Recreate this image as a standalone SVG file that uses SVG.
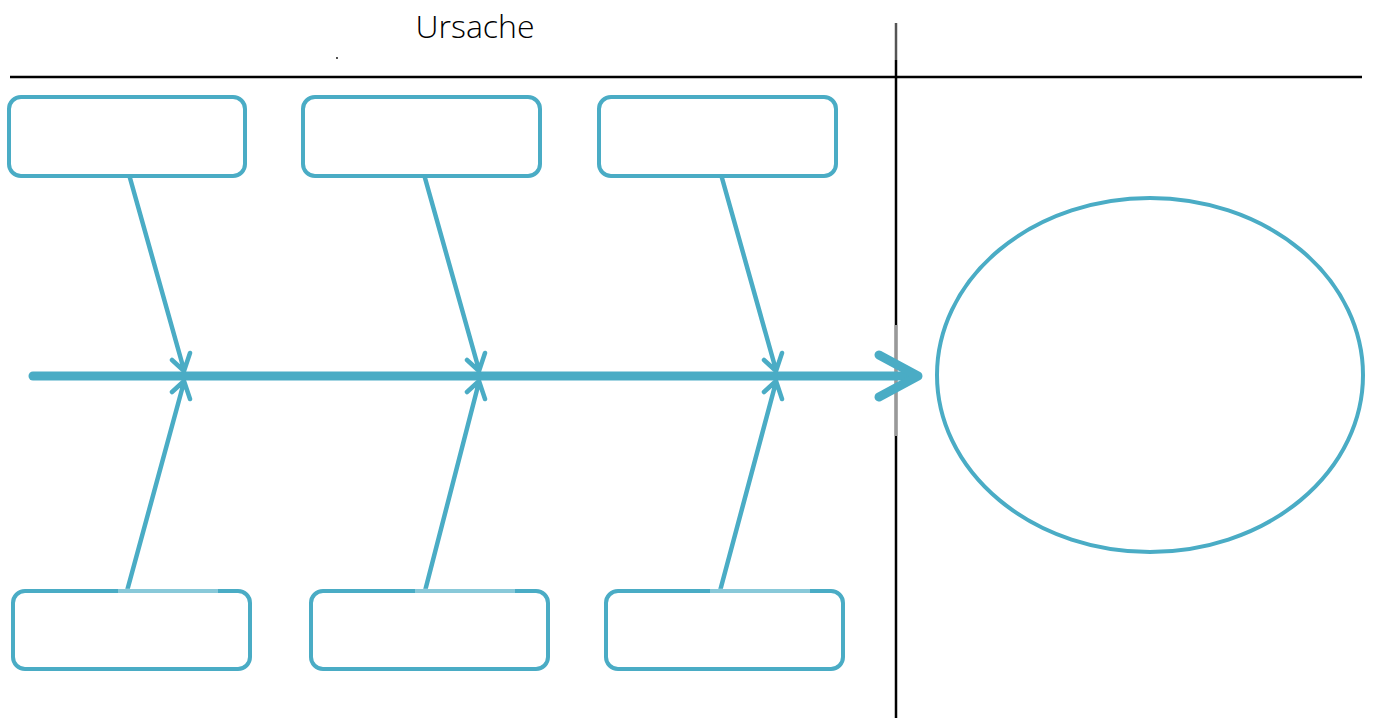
<svg xmlns="http://www.w3.org/2000/svg" width="1377" height="718" viewBox="0 0 1377 718">
<style>
.box{fill:#fff;stroke:#4aacc5;stroke-width:4}
.bone{stroke:#4aacc5;stroke-width:4.5;fill:none;stroke-linecap:round;stroke-linejoin:round}
.spine{stroke:#4aacc5;stroke-width:9;fill:none;stroke-linecap:round;stroke-linejoin:round}
.rule{stroke:#000;stroke-width:2.5;fill:none}
.title{font-family:"Open Sans","Liberation Sans",sans-serif;font-weight:300;font-size:32px;fill:#000}
</style>
<rect width="1377" height="718" fill="#fff"/>
<g id="frame">
<line class="rule" x1="10" y1="77" x2="1362" y2="77"/>
<line class="rule" x1="896" y1="60" x2="896" y2="718"/>
<line x1="896" y1="23" x2="896" y2="60" stroke="#555" stroke-width="2.5"/>
<line x1="896" y1="325" x2="896" y2="436" stroke="#999" stroke-width="3"/>
<circle cx="337" cy="58" r="0.9" fill="#000"/>
</g>
<g id="title"><text class="title" x="475" y="38" text-anchor="middle">Ursache</text></g>
<g id="connectors">
<path class="spine" d="M33 376 H916"/>
<path class="spine" d="M879 355 L918 376 L879 397" stroke-width="10"/>
<path class="bone" d="M130 178 L184 370 M172 360 L184 371 L190 353"/>
<path class="bone" d="M127 591 L184 382 M172 392 L184 381 L190 399"/>
<path class="bone" d="M425 178 L479 370 M467 360 L479 371 L485 353"/>
<path class="bone" d="M425 591 L479 382 M467 392 L479 381 L485 399"/>
<path class="bone" d="M722 178 L776 370 M764 360 L776 371 L782 353"/>
<path class="bone" d="M720 591 L776 382 M764 392 L776 381 L782 399"/>
</g>
<g id="box-top-1"><rect class="box" x="9" y="97" width="236" height="79" rx="12"/></g>
<g id="box-top-2"><rect class="box" x="303" y="97" width="237" height="79" rx="12"/></g>
<g id="box-top-3"><rect class="box" x="599" y="97" width="237" height="79" rx="12"/></g>
<g id="box-bottom-1"><rect class="box" x="13" y="591" width="237" height="78" rx="12"/><line x1="118" y1="591" x2="218" y2="591" stroke="#fff" stroke-opacity="0.35" stroke-width="5"/></g>
<g id="box-bottom-2"><rect class="box" x="311" y="591" width="237" height="78" rx="12"/><line x1="415" y1="591" x2="515" y2="591" stroke="#fff" stroke-opacity="0.35" stroke-width="5"/></g>
<g id="box-bottom-3"><rect class="box" x="606" y="591" width="237" height="78" rx="12"/><line x1="710" y1="591" x2="810" y2="591" stroke="#fff" stroke-opacity="0.35" stroke-width="5"/></g>
<g id="effect"><ellipse cx="1150" cy="375" rx="213" ry="177" fill="none" stroke="#4aacc5" stroke-width="4"/></g>
</svg>
